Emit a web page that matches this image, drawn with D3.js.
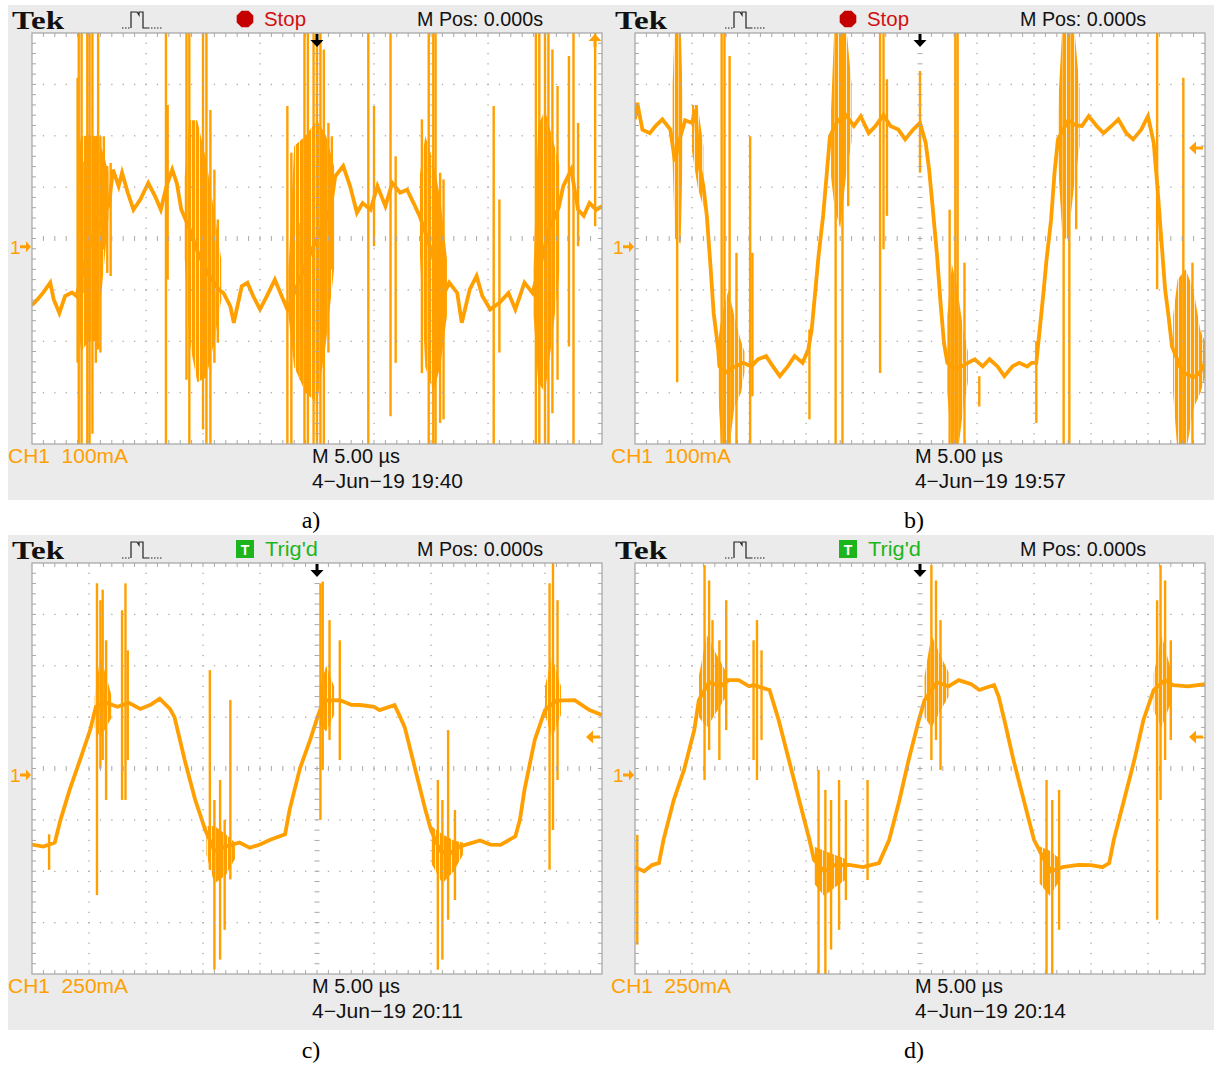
<!DOCTYPE html>
<html>
<head>
<meta charset="utf-8">
<script src="https://cdn.jsdelivr.net/npm/d3@7"></script>
<style>
body { margin: 0; background: #fff; }
</style>
</head>
<body>
<svg id="fig" width="1217" height="1066"></svg>
<script>
// panel settings (time in µs, 5 µs/div; current in mA)
var panelNames = ["a)", "b)", "c)", "d)"];
var panelStatus = ["Stop", "Stop", "Trig'd", "Trig'd"];
var panelScale = ["CH1  100mA", "CH1  100mA", "CH1  250mA", "CH1  250mA"];
var mAperDiv = [100, 100, 250, 250];
var panelDate = ["4\u2212Jun\u221219 19:40", "4\u2212Jun\u221219 19:57", "4\u2212Jun\u221219 20:11", "4\u2212Jun\u221219 20:14"];
var trigLevel = [460, 176, 153, 153];
var groundLevel = [-16, -16, -32, -32];

// a) main trace [µs, mA]
var aTrace = [
    [0, -130], [0.5, -118], [1, -105], [1.6, -86], [1.9, -118], [2.4, -145], [2.9, -112], [3.5, -105], [3.9, -112],
    [4.5, -60], [5.2, 0], [6.0, 30], [6.8, 70],
    [6.9, 95], [7.1, 134], [7.6, 102], [7.9, 128], [8.4, 89], [8.9, 56], [9.5, 76], [10.2, 108], [10.8, 82], [11.3, 56],
    [11.8, 102], [12.3, 134], [12.7, 108], [13.1, 56],
    [13.8, 20], [14.6, -30], [15.5, -70], [16.4, -100],
    [16.8, -106], [17.4, -132], [17.7, -164], [18.4, -93], [18.9, -86], [19.4, -112], [20, -138], [20.6, -112], [21.3, -80],
    [21.9, -112], [22.4, -138],
    [23.3, -90], [24.2, -40], [25.2, 10], [26.2, 60],
    [26.6, 121], [27.3, 141], [27.9, 102], [28.5, 50], [29, 69], [29.7, 56], [30.3, 102], [31, 63], [31.6, 108], [32.3, 89],
    [32.9, 95], [33.6, 63], [34, 44],
    [34.7, 0], [35.5, -60], [36.3, -100],
    [36.6, -86], [37.3, -106], [37.7, -164], [38.4, -99], [39, -73], [39.5, -112], [40.2, -138], [41, -125], [41.8, -106],
    [42.4, -138], [43.2, -86], [43.9, -106],
    [44.6, -50], [45.4, 20], [46.2, 60],
    [46.6, 102], [47.3, 134], [47.9, 56], [48.4, 44], [48.9, 69], [49.5, 56], [50, 63]
];
// a) dense bursts [µs, low mA, high mA]
var aBursts = [
    [[4.0, -150, 150], [4.3, -220, 200], [5.0, -200, 200], [5.7, -200, 200], [6.2, -80, 170], [6.7, 40, 130]],
    [[13.4, -40, 120], [13.8, -200, 230], [14.5, -280, 230], [15.3, -270, 150], [16.0, -200, 50], [16.6, -120, -40]],
    [[22.5, -150, -60], [23.0, -250, 180], [24.0, -300, 200], [25.0, -320, 230], [25.8, -200, 200], [26.5, -60, 140]],
    [[34.0, -20, 120], [34.5, -250, 200], [35.2, -300, 150], [35.8, -250, 80], [36.4, -150, -40]],
    [[44.0, -150, -60], [44.4, -280, 220], [45.0, -300, 250], [45.6, -200, 200], [46.3, -60, 140]]
];
// a) single spikes [µs, low mA, high mA]
var aSpikes = [
    [4.0, -242, 313], [4.1, -420, 420], [4.35, -420, 420], [4.6, -106, 150], [4.85, -420, 420], [5.05, -420, 420],
    [5.3, -380, 420], [5.6, -242, 199], [5.8, -216, 420], [6.0, -222, 199], [6.3, -21, 199], [6.6, -67, 141], [6.9, -73, 147],
    [11.75, -420, 420], [11.9, -80, 260],
    [13.55, -275, 420], [13.8, -420, 420], [15.0, -372, 420], [15.3, -420, 420], [15.65, -420, 250], [16.0, -242, 134],
    [16.3, -203, 37],
    [22.4, -420, 258], [22.75, -420, 167], [23.55, -275, 30], [23.9, -420, 420], [24.2, -420, 420], [24.7, -420, 420],
    [25, -420, 420], [25.3, -420, 420], [25.6, -420, 368], [26.0, -222, 225], [26.3, -60, 199],
    [29.5, -420, 420], [30.0, -15, 258], [31.45, -346, 420], [31.9, -242, 160],
    [34.2, -262, 232], [34.8, -420, 420], [35.2, -420, 420], [35.4, -420, 420], [35.8, -359, 128], [36.1, -352, 115],
    [40.5, -420, 258], [41.0, -222, 76],
    [44.2, -420, 420], [44.5, -420, 420], [45.0, -420, 420], [45.3, -420, 420], [45.65, -340, 368], [46.1, -275, 297],
    [47.1, -210, 355], [47.5, -420, 420], [47.9, -15, 225], [49.4, 24, 420]
];

// b)
var bTrace = [
    [0, 232], [0.2, 264], [0.65, 212], [1.3, 205], [1.8, 219], [2.4, 232], [3.1, 212], [3.5, 150], [4.0, 200], [4.4, 230],
    [5.0, 225], [5.3, 251], [5.6, 147], [6.0, 102], [6.3, 44], [6.6, -47], [6.9, -145], [7.3, -216], [7.4, -249],
    [8.0, -260], [8.7, -250], [9.5, -242], [10.2, -249], [10.8, -235], [11.5, -229], [12.1, -249], [12.7, -268],
    [13.4, -249], [14.0, -229], [14.7, -242], [15.2, -216], [15.5, -177], [15.8, -106], [16.1, -34], [16.5, 44],
    [16.8, 121], [17.1, 199],
    [17.8, 230], [18.5, 240], [19.2, 219], [19.8, 238], [20.5, 205], [21.1, 219], [21.8, 240], [22.4, 219], [23.1, 212],
    [23.7, 193], [24.4, 212], [25, 225], [25.5, 186], [25.8, 134], [26.1, 63], [26.5, -34], [26.8, -125], [27.1, -203],
    [27.4, -242],
    [28.2, -255], [29.2, -242], [29.8, -235], [30.5, -249], [31.1, -235], [31.8, -249], [32.4, -268], [33.1, -249],
    [33.7, -242], [34.4, -249], [34.8, -242], [35.2, -242], [35.5, -177], [35.8, -112], [36.1, -41], [36.5, 37],
    [36.8, 128], [37.1, 193],
    [38.0, 230], [38.7, 220], [39.2, 219], [39.8, 238], [40.5, 219], [41.1, 205], [41.8, 219], [42.4, 232], [43.1, 205],
    [43.7, 193], [44.4, 212], [45, 238], [45.5, 186], [45.8, 108], [46.1, 18], [46.5, -99], [46.8, -151], [47.1, -210],
    [48.0, -260], [49.0, -270], [49.5, -262], [50, -242]
];
var bBursts = [
    [[3.3, 150, 300], [3.5, 0, 420], [4.0, -10, 420], [4.2, 180, 260]],
    [[5.0, 170, 260], [5.5, 100, 260], [6.0, 60, 180]],
    [[7.3, -300, -200], [7.6, -420, -150], [8.2, -420, -100], [8.7, -330, -150], [9.3, -300, -200], [9.6, -260, -220]],
    [[17.2, 120, 250], [17.5, 60, 420], [18.0, 20, 420], [18.5, 120, 420], [19.0, 190, 300]],
    [[27.4, -300, -150], [27.8, -420, -50], [28.3, -420, -100], [28.8, -330, -180], [29.2, -280, -220]],
    [[37.1, 150, 250], [37.5, 0, 420], [38.0, 0, 420], [38.5, 100, 420], [39.0, 180, 290]],
    [[47.2, -300, -150], [47.6, -420, -80], [48.3, -420, -60], [49.0, -330, -100], [49.6, -300, -180], [50, -270, -200]]
];
var bSpikes = [
    [3.7, -280, 420], [7.6, -420, 420], [7.85, -420, 420], [8.3, -420, 355], [8.9, -420, -28], [10.1, -420, 199],
    [10.3, -307, -28], [15.3, -352, -177], [17.6, -420, 420], [18.2, -420, 420], [18.7, 63, 300], [21.5, -262, 420],
    [21.8, -21, 420], [22.1, 44, 310], [25.0, 128, 326], [27.6, -420, 56], [28.1, -420, 420], [28.3, -420, 420],
    [28.9, -420, -47], [30.2, -327, -268], [35.2, -359, -200], [37.6, -420, 420], [38.1, -420, 420], [38.7, 18, 212],
    [45.8, -99, 420], [48.1, -420, 313], [48.9, -420, -47]
];

// c)
var cTrace = [
    [0, -370], [1, -380], [2, -360], [2.5, -250], [3.3, -104], [4.2, 40], [5.1, 187], [5.6, 300], [6.5, 320], [7.5, 300],
    [8.5, 320], [9.5, 290], [10.4, 310], [11.2, 340], [12.1, 290], [12.5, 250], [13.4, 40], [14.3, -150], [15.2, -300],
    [16.0, -400], [17.0, -380], [18.2, -360], [19.1, -386], [20.0, -370], [20.9, -347], [22.2, -320], [22.6, -200],
    [23.5, 0], [24.4, 139], [25.1, 260], [25.6, 330], [27.0, 333], [28.0, 310], [28.8, 309], [30.0, 300], [30.5, 284],
    [31.8, 309], [32.3, 250], [32.7, 200], [33.6, 0], [34.5, -200], [35.0, -300], [35.8, -400], [36.5, -420],
    [37.5, -380], [39.3, -350], [40.2, -370], [41.1, -372], [42.4, -330], [42.8, -250], [43.2, -104], [44.1, 139],
    [45.0, 284], [46.0, 330], [47.6, 333], [48.9, 284], [50, 260]
];
var cBursts = [
    [[5.5, 200, 350], [6.0, 150, 550], [6.5, 200, 450], [7.0, 250, 350]],
    [[15.3, -420, -280], [16.0, -560, -280], [17.0, -520, -320], [17.8, -440, -360]],
    [[25.2, 220, 380], [25.8, 180, 500], [26.5, 260, 400]],
    [[35.0, -460, -280], [36.0, -560, -320], [37.0, -500, -350], [37.8, -420, -360]],
    [[45.0, 260, 400], [45.6, 150, 550], [46.4, 260, 400]]
];
var cSpikes = [
    [1.5, -493, -320], [5.7, -615, 901], [6.0, 0, 819], [6.2, 41, 870], [6.5, -153, 624], [7.9, -153, 770],
    [8.2, -153, 901], [8.4, 41, 575],
    [15.6, -493, 479], [16.0, -979, -153], [16.5, -930, -56], [16.9, -785, -250], [17.4, -540, 333],
    [25.3, -250, 901], [25.5, -7, 910], [26.1, 139, 722], [27.0, 41, 624],
    [35.6, -979, -56], [36.0, -930, -153], [36.5, -736, 187], [37.1, -640, -202],
    [45.4, -493, 901], [45.7, -299, 1000], [46.1, -56, 819]
];

// d)
var dTrace = [
    [0, -480], [0.8, -500], [1.5, -470], [2.1, -460], [2.5, -347], [3.4, -153], [4.3, -7], [5.2, 187], [5.6, 333],
    [6.5, 420], [7.5, 400], [8.2, 430], [9.1, 430], [10.0, 400], [10.4, 406], [11.8, 382], [12.6, 236], [13.5, 41],
    [14.4, -153], [15.3, -347], [15.7, -445], [16.6, -500], [17.5, -470], [18.8, -469], [20.0, -480], [21.4, -460],
    [22.3, -347], [23.2, -153], [24.0, 41], [24.9, 236], [25.4, 333], [26.5, 420], [27.5, 400], [28.4, 430], [29.5, 410],
    [30.2, 382], [31.5, 406], [31.9, 350], [32.4, 236], [33.2, 41], [34.1, -153], [35.0, -347], [35.9, -445],
    [36.5, -500], [37.5, -480], [38.9, -469], [40.0, -470], [41.0, -480], [41.6, -460], [42.0, -347], [42.9, -153],
    [43.8, 41], [44.6, 236], [45.5, 382], [46.5, 430], [47.2, 406], [48.5, 400], [50, 410]
];
var dBursts = [
    [[5.6, 250, 450], [6.3, 200, 650], [7.2, 280, 550], [8.0, 350, 470]],
    [[15.7, -560, -380], [16.6, -620, -400], [17.5, -580, -420], [18.5, -540, -440]],
    [[25.4, 250, 450], [26.0, 200, 650], [26.8, 280, 550], [27.5, 350, 470]],
    [[35.5, -560, -380], [36.4, -620, -400], [37.3, -540, -440]],
    [[45.5, 280, 460], [46.2, 200, 650], [47.0, 320, 480]]
];
var dSpikes = [
    [0.2, -857, -323], [6.1, -56, 990], [6.5, 90, 915], [6.8, 333, 722], [7.4, 41, 624], [8.0, 187, 819],
    [10.4, 41, 624], [10.7, -56, 722], [11.1, 139, 575],
    [16.1, -1000, -7], [16.7, -1000, -104], [17.2, -881, -153], [17.9, -785, -56], [18.5, -640, -153], [20.4, -543, -56],
    [26.0, 41, 990], [26.4, 139, 915], [26.8, -7, 722],
    [36.1, -1000, -56], [36.6, -1000, -153], [37.2, -785, -104],
    [45.8, -736, 819], [46.1, -153, 990], [46.5, 41, 915], [47.0, 139, 624]
];

var traces = [aTrace, bTrace, cTrace, dTrace];
var bursts = [aBursts, bBursts, cBursts, dBursts];
var spikes = [aSpikes, bSpikes, cSpikes, dSpikes];

var origins = [[8, 5], [611, 5], [8, 535], [611, 535]];
var panelW = 603, panelH = 495;
var plotX = 24, plotY = 28, W = 570, H = 411;
var orange = "#ffa000";
var gridColor = "#a9a9a9";
var scopeFont = "'Liberation Sans', Arial, sans-serif";

var svg = d3.select("#fig");

// burst fill: dense vertical columns like the scope display
var defs = svg.append("defs");
var pat = defs.append("pattern").attr("id", "cols")
    .attr("patternUnits", "userSpaceOnUse").attr("width", 4).attr("height", 10);
pat.append("rect").attr("width", 3.2).attr("height", 10).attr("fill", orange);

function drawGrid(p) {
    var dw = W / 10, dh = H / 8;
    var g = p.append("g").attr("fill", gridColor).attr("stroke", gridColor);
    // dotted division lines
    d3.range(1, 10).forEach(function (i) {
        if (i === 5) return;
        d3.range(1, 40).forEach(function (j) {
            g.append("rect").attr("x", i * dw - 0.6).attr("y", j * dh / 5 - 0.6)
                .attr("width", 1.3).attr("height", 1.3).attr("stroke", "none");
        });
    });
    d3.range(1, 8).forEach(function (k) {
        if (k === 4) return;
        d3.range(1, 50).forEach(function (j) {
            g.append("rect").attr("x", j * dw / 5 - 0.6).attr("y", k * dh - 0.6)
                .attr("width", 1.3).attr("height", 1.3).attr("stroke", "none");
        });
    });
    // centre cross with minor ticks
    d3.range(1, 40).forEach(function (j) {
        g.append("line").attr("x1", 5 * dw - 2.5).attr("x2", 5 * dw + 2.5)
            .attr("y1", j * dh / 5).attr("y2", j * dh / 5).attr("stroke-width", 1);
    });
    d3.range(1, 50).forEach(function (j) {
        g.append("line").attr("x1", j * dw / 5).attr("x2", j * dw / 5)
            .attr("y1", 4 * dh - 2.5).attr("y2", 4 * dh + 2.5).attr("stroke-width", 1);
    });
    // edge ticks
    d3.range(1, 50).forEach(function (j) {
        g.append("line").attr("x1", j * dw / 5).attr("x2", j * dw / 5).attr("y1", 0).attr("y2", 4);
        g.append("line").attr("x1", j * dw / 5).attr("x2", j * dw / 5).attr("y1", H - 4).attr("y2", H);
    });
    d3.range(1, 40).forEach(function (j) {
        g.append("line").attr("x1", 0).attr("x2", 4).attr("y1", j * dh / 5).attr("y2", j * dh / 5);
        g.append("line").attr("x1", W - 4).attr("x2", W).attr("y1", j * dh / 5).attr("y2", j * dh / 5);
    });
}

function drawPanel(i) {
    var g = svg.append("g")
        .attr("transform", "translate(" + origins[i][0] + "," + origins[i][1] + ")");

    g.append("rect").attr("width", panelW).attr("height", panelH).attr("fill", "#ebebeb");

    var x = d3.scaleLinear().domain([0, 50]).range([0, W]);
    var y = d3.scaleLinear().domain([-4 * mAperDiv[i], 4 * mAperDiv[i]]).range([H, 0]);

    var p = g.append("g").attr("transform", "translate(" + plotX + "," + plotY + ")");
    p.append("rect").attr("width", W).attr("height", H).attr("fill", "#fff");

    var clipId = "clip" + i;
    p.append("clipPath").attr("id", clipId)
        .append("rect").attr("width", W).attr("height", H);
    var wave = p.append("g").attr("clip-path", "url(#" + clipId + ")");

    var area = d3.area()
        .x(function (d) { return x(d[0]); })
        .y0(function (d) { return y(d[1]); })
        .y1(function (d) { return y(d[2]); });
    wave.selectAll("path.burst").data(bursts[i]).enter().append("path")
        .attr("class", "burst")
        .attr("d", area)
        .attr("fill", "url(#cols)");

    var line = d3.line()
        .x(function (d) { return x(d[0]); })
        .y(function (d) { return y(d[1]); });
    wave.append("path")
        .attr("d", line(traces[i]))
        .attr("fill", "none")
        .attr("stroke", orange)
        .attr("stroke-width", 3.8)
        .attr("stroke-linejoin", "miter");

    wave.selectAll("line.spike").data(spikes[i]).enter().append("line")
        .attr("class", "spike")
        .attr("x1", function (d) { return x(d[0]); })
        .attr("x2", function (d) { return x(d[0]); })
        .attr("y1", function (d) { return y(d[1]); })
        .attr("y2", function (d) { return y(d[2]); })
        .attr("stroke", orange)
        .attr("stroke-width", 2.4);

    drawGrid(p);
    p.append("rect").attr("width", W).attr("height", H)
        .attr("fill", "none").attr("stroke", "#a3a3a3").attr("stroke-width", 1.2);

    // trigger position marker (time 25 µs)
    var tx = x(25);
    p.append("path")
        .attr("d", "M" + (tx - 1.5) + ",1 h3 v6 h5 l-6.5,7 l-6.5,-7 h5 z")
        .attr("fill", "#000");

    // trigger level marker
    if (trigLevel[i] > 4 * mAperDiv[i]) {
        var ux = W - 7;
        p.append("path")
            .attr("d", "M" + ux + ",1 l6.5,7 h-5 v6 h-3 v-6 h-5 z")
            .attr("fill", orange);
    } else {
        var ly = y(trigLevel[i]);
        p.append("path")
            .attr("d", "M" + (W - 16) + "," + ly + " l7,-6.5 v5 h7 v3 h-7 v5 z")
            .attr("fill", orange);
    }

    // channel ground marker
    var gy = plotY + y(groundLevel[i]);
    g.append("text").attr("x", 2).attr("y", gy + 7)
        .attr("font-family", scopeFont).attr("font-size", 19)
        .attr("fill", orange).text("1");
    g.append("path")
        .attr("d", "M12," + (gy - 1.5) + " h6 v-4 l5,5.5 l-5,5.5 v-4 h-6 z")
        .attr("fill", orange);

    // header
    g.append("text").attr("x", 4).attr("y", 24)
        .attr("font-family", "'Liberation Serif', 'DejaVu Serif', serif")
        .attr("font-weight", "bold").attr("font-size", 26)
        .attr("textLength", 52).attr("lengthAdjust", "spacingAndGlyphs")
        .attr("fill", "#111").text("Tek");

    var icon = g.append("g").attr("fill", "none").attr("stroke", "#222").attr("stroke-width", 1.2);
    icon.append("path").attr("d", "M114,23 h9 M140,23 h15").attr("stroke-dasharray", "1.5,1.5");
    icon.append("path").attr("d", "M123,23 V7 h6 l2,3 V7 h4 V23 h5");

    if (panelStatus[i] === "Stop") {
        var r = 9, cx = 237, cy = 14;
        var oct = d3.range(8).map(function (k) {
            var a = Math.PI / 8 + k * Math.PI / 4;
            return [cx + r * Math.cos(a), cy + r * Math.sin(a)];
        });
        g.append("path").attr("d", "M" + oct.join("L") + "Z").attr("fill", "#c40000");
        g.append("text").attr("x", 256).attr("y", 21)
            .attr("font-family", scopeFont).attr("font-size", 20)
            .attr("textLength", 42).attr("lengthAdjust", "spacingAndGlyphs")
            .attr("fill", "#d01010").text(panelStatus[i]);
    } else {
        g.append("rect").attr("x", 228).attr("y", 5).attr("width", 18).attr("height", 18).attr("fill", "#1cb61c");
        g.append("text").attr("x", 237).attr("y", 20).attr("text-anchor", "middle")
            .attr("font-family", scopeFont).attr("font-weight", "bold").attr("font-size", 14)
            .attr("fill", "#fff").text("T");
        g.append("text").attr("x", 257).attr("y", 21)
            .attr("font-family", scopeFont).attr("font-size", 20)
            .attr("textLength", 53).attr("lengthAdjust", "spacingAndGlyphs")
            .attr("fill", "#1cb61c").text(panelStatus[i]);
    }

    g.append("text").attr("x", 409).attr("y", 21)
        .attr("font-family", scopeFont).attr("font-size", 20)
        .attr("textLength", 126).attr("lengthAdjust", "spacingAndGlyphs")
        .attr("fill", "#111").text("M Pos: 0.000s");

    // footer
    g.append("text").attr("x", 0).attr("y", 458)
        .attr("font-family", scopeFont).attr("font-size", 20)
        .attr("textLength", 120).attr("lengthAdjust", "spacingAndGlyphs")
        .attr("xml:space", "preserve")
        .attr("fill", orange).text(panelScale[i]);
    g.append("text").attr("x", 304).attr("y", 458)
        .attr("font-family", scopeFont).attr("font-size", 20)
        .attr("textLength", 88).attr("lengthAdjust", "spacingAndGlyphs")
        .attr("fill", "#111").text("M 5.00 \u00b5s");
    g.append("text").attr("x", 304).attr("y", 483)
        .attr("font-family", scopeFont).attr("font-size", 20)
        .attr("textLength", 151).attr("lengthAdjust", "spacingAndGlyphs")
        .attr("fill", "#111").text(panelDate[i]);

    // caption under the screen
    g.append("text").attr("x", 303).attr("y", 523)
        .attr("text-anchor", "middle")
        .attr("font-family", "'Liberation Serif', 'DejaVu Serif', serif")
        .attr("font-size", 24)
        .attr("fill", "#000").text(panelNames[i]);
}

d3.range(4).forEach(drawPanel);
</script>
</body>
</html>
